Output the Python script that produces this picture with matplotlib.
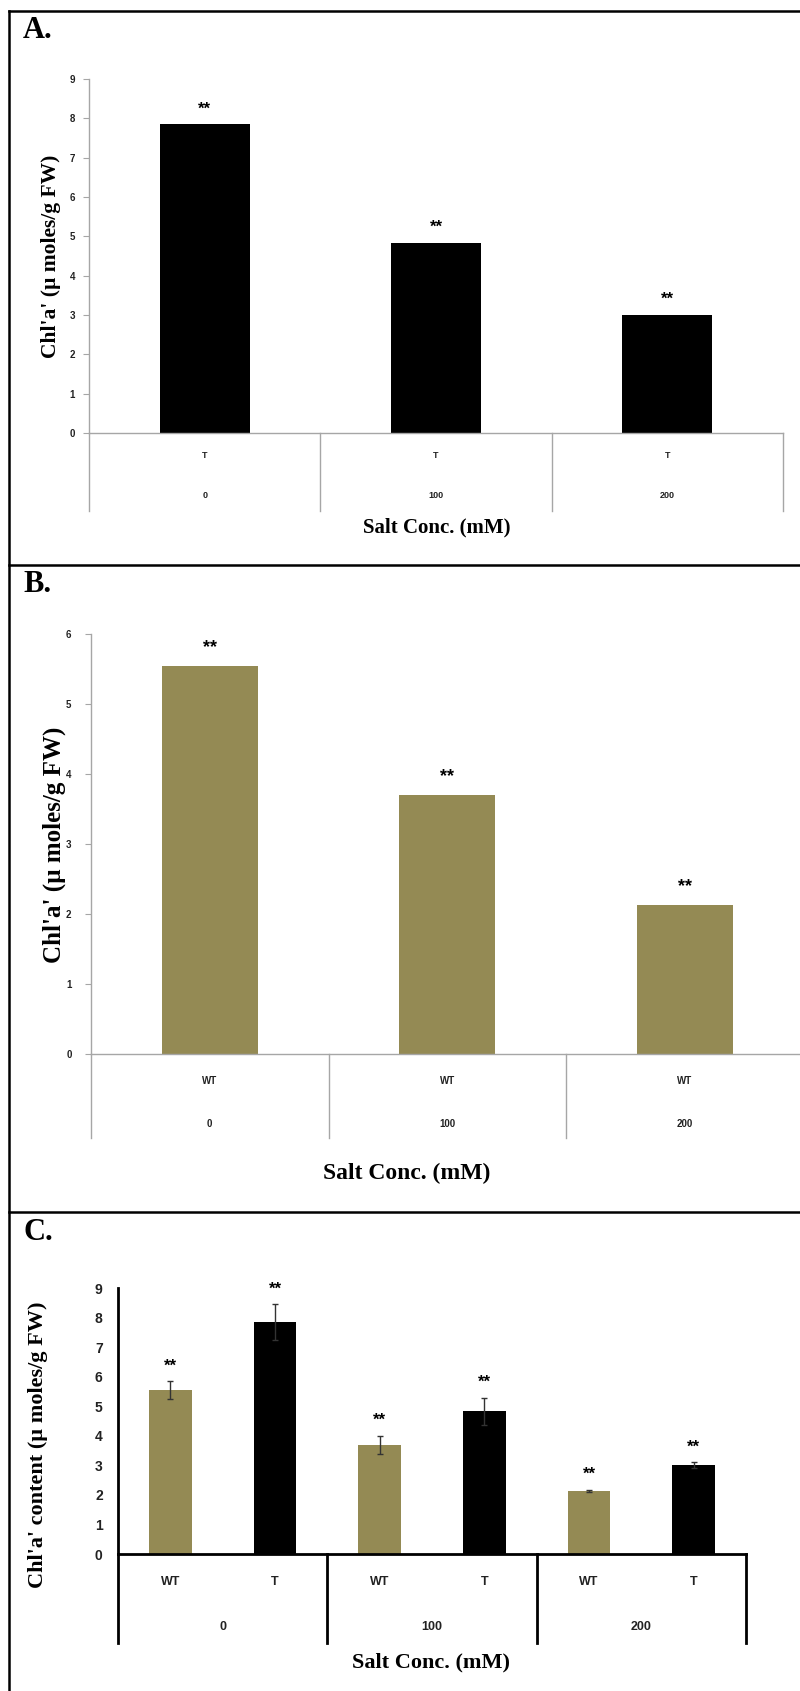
import matplotlib
matplotlib.use('Agg')
import matplotlib.pyplot as plt
from matplotlib.lines import Line2D
import numpy as np

W, H = 800, 1691

# chlorophyll a content (umoles/g FW) at salt conc. 0, 100, 200 mM
salt_conc = ['0', '100', '200']
chl_t = [7.85, 4.83, 3.0]       # transgenic (panel A)
chl_wt = [5.55, 3.7, 2.13]      # wild type (panel B)
chl_wt_err = [0.3, 0.3, 0.04]   # panel C error bars
chl_t_err = [0.6, 0.45, 0.1]

olive = '#948A54'
grey = '#a6a6a6'
serif = 'Liberation Serif'
sans = 'Liberation Sans'

fig = plt.figure(figsize=(W / 100, H / 100), dpi=100)


def px_axes(left, top, right, bottom):
    return fig.add_axes([left / W, 1 - bottom / H, (right - left) / W, (bottom - top) / H])


def fig_line(x0, y0, x1, y1, lw=1.8):
    fig.add_artist(Line2D([x0 / W, x1 / W], [1 - y0 / H, 1 - y1 / H],
                          transform=fig.transFigure, color='black', lw=lw))


def fig_text(x, y, s, size, **kw):
    fig.text(x / W, 1 - y / H, s, fontsize=size, ha='center', va='center', **kw)


def category_axis(ax, ax_h, xs, subs, sub_dy, sub_fs, grps, grp_xs, grp_dy, grp_fs,
                  seps, sep_dy, color, lw):
    tr = ax.get_xaxis_transform()
    for xi, lab in zip(xs, subs):
        ax.text(xi, -sub_dy / ax_h, lab, transform=tr, ha='center', va='center',
                fontsize=sub_fs, fontweight='bold', family=sans, color='#222222')
    for xi, lab in zip(grp_xs, grps):
        ax.text(xi, -grp_dy / ax_h, lab, transform=tr, ha='center', va='center',
                fontsize=grp_fs, fontweight='bold', family=sans, color='#222222')
    for s in seps:
        ax.plot([s, s], [0, -sep_dy / ax_h], transform=tr, clip_on=False, color=color, lw=lw)


def style_axes(ax, color, lw, labelsize, ticklen, pad):
    for side in ['top', 'right']:
        ax.spines[side].set_visible(False)
    for side in ['left', 'bottom']:
        ax.spines[side].set_color(color)
        ax.spines[side].set_linewidth(lw)
    ax.set_xticks([])
    ax.tick_params(axis='y', direction='out', length=ticklen, color=color,
                   labelsize=labelsize, pad=pad, labelcolor='#222222')
    for t in ax.get_yticklabels():
        t.set_fontweight('bold')
        t.set_family(sans)


# panel frames
fig_line(9, 11, 800, 11)
fig_line(9, 565, 800, 565)
fig_line(9, 1212, 800, 1212)
fig_line(9, 11, 9, 1691)
fig_text(38, 31, 'A.', 22, fontweight='bold', family=serif)
fig_text(38, 585, 'B.', 22, fontweight='bold', family=serif)
fig_text(38, 1232, 'C.', 22, fontweight='bold', family=serif)

# ---- Panel A ----
axA = px_axes(89, 79, 783, 433)
x3 = np.arange(3)
axA.bar(x3, chl_t, width=0.39, color='black')
axA.set_xlim(-0.5, 2.5)
axA.set_ylim(0, 9)
axA.set_yticks(range(10))
style_axes(axA, grey, 1.0, 7, 4, 6)
for xi, v in zip(x3, chl_t):
    axA.annotate('**', (xi, v), xytext=(0, 11), textcoords='offset points',
                 ha='center', va='center', fontsize=12, fontweight='bold', family=sans)
category_axis(axA, 354, x3, ['T'] * 3, 23, 6.5, salt_conc, x3, 62, 6.5,
              [-0.5, 0.5, 1.5, 2.5], 78, grey, 1.0)
fig_text(51, 256, "Chl'a' (\u00b5 moles/g FW)", 15.5, rotation=90, fontweight='bold', family=serif)
fig_text(437, 527, 'Salt Conc. (mM)', 15, fontweight='bold', family=serif)

# ---- Panel B ----
axB = px_axes(91, 634, 803.5, 1054)
axB.bar(x3, chl_wt, width=0.405, color=olive)
axB.set_xlim(-0.5, 2.5)
axB.set_ylim(0, 6)
axB.set_yticks(range(7))
style_axes(axB, grey, 1.0, 7, 4, 10)
for xi, v in zip(x3, chl_wt):
    axB.annotate('**', (xi, v), xytext=(0, 13), textcoords='offset points',
                 ha='center', va='center', fontsize=13, fontweight='bold', family=sans)
category_axis(axB, 420, x3, ['WT'] * 3, 27, 7, salt_conc, x3, 70, 7,
              [-0.5, 0.5, 1.5, 2.5], 84, grey, 1.0)
fig_text(54, 845, "Chl'a' (\u00b5 moles/g FW)", 18, rotation=90, fontweight='bold', family=serif)
fig_text(407, 1173, 'Salt Conc. (mM)', 17, fontweight='bold', family=serif)

# ---- Panel C ----
axC = px_axes(118, 1288, 746, 1554)
wt_x = np.arange(3) * 2
t_x = wt_x + 1
axC.bar(wt_x, chl_wt, width=0.41, color=olive)
axC.bar(t_x, chl_t, width=0.41, color='black')
axC.errorbar(wt_x, chl_wt, yerr=chl_wt_err, fmt='none', ecolor='#333333', elinewidth=1, capsize=2.5)
axC.errorbar(t_x, chl_t, yerr=chl_t_err, fmt='none', ecolor='#333333', elinewidth=1, capsize=2.5)
axC.set_xlim(-0.5, 5.5)
axC.set_ylim(0, 9)
axC.set_yticks(range(10))
style_axes(axC, 'black', 2.0, 10, 0, 11)
for xs, vals, errs in [(wt_x, chl_wt, chl_wt_err), (t_x, chl_t, chl_t_err)]:
    for xi, v, e in zip(xs, vals, errs):
        axC.annotate('**', (xi, v + e), xytext=(0, 11), textcoords='offset points',
                     ha='center', va='center', fontsize=12, fontweight='bold', family=sans)
category_axis(axC, 266, np.arange(6), ['WT', 'T'] * 3, 28, 9, salt_conc, wt_x + 0.5, 73, 9,
              [-0.5, 1.5, 3.5, 5.5], 89, 'black', 2.0)
fig_text(38, 1445, "Chl'a' content (\u00b5 moles/g FW)", 16, rotation=90, fontweight='bold', family=serif)
fig_text(431, 1662, 'Salt Conc. (mM)', 16, fontweight='bold', family=serif)

fig.savefig('out.png', dpi=100)
